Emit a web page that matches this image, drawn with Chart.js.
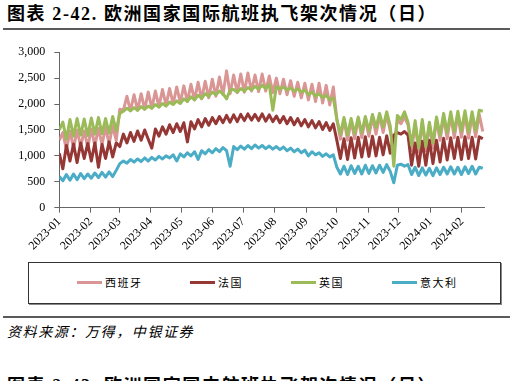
<!DOCTYPE html>
<html><head><meta charset="utf-8">
<script src="https://cdn.jsdelivr.net/npm/chart.js@4.4.0/dist/chart.umd.min.js"></script>
<style>
html,body{margin:0;padding:0;background:#fff;}
body{width:515px;height:381px;overflow:hidden;position:relative;font-family:"Liberation Serif","Noto Sans CJK SC",serif;color:#000;}
.title{position:absolute;left:7px;white-space:nowrap;font-size:18px;font-weight:bold;letter-spacing:1.6px;line-height:22px;}
.rule{position:absolute;left:3px;width:507px;height:2px;background:#5a5a5a;}
#wrap{position:absolute;left:0;top:36px;width:515px;height:222px;}
.legend{position:absolute;left:28px;top:262px;width:471px;height:40px;border:1px solid #333;box-shadow:1px 1px 0 #888;}
.lgline{position:absolute;width:25px;height:3px;top:281px;}
.lgtext{position:absolute;top:275px;font-family:"Noto Sans CJK SC",sans-serif;font-size:11px;line-height:15px;letter-spacing:1.5px;}
.src{position:absolute;left:7px;top:322px;font-family:"Noto Sans CJK SC",sans-serif;font-style:italic;font-size:14px;line-height:18px;letter-spacing:1.6px;}
</style>
</head><body>
<div class="title" style="top:3px">图表 2-42. 欧洲国家国际航班执飞架次情况（日）</div>
<div class="rule" style="top:28px"></div>
<div id="wrap"><canvas id="c"></canvas></div>
<div class="legend"></div>
<div class="lgline" style="left:77px;background:#D99694"></div><div class="lgtext" style="left:105px">西班牙</div>
<div class="lgline" style="left:190px;background:#953735"></div><div class="lgtext" style="left:218px">法国</div>
<div class="lgline" style="left:291px;background:#9BBB59"></div><div class="lgtext" style="left:319px">英国</div>
<div class="lgline" style="left:392px;background:#4BACC6"></div><div class="lgtext" style="left:420px">意大利</div>
<div class="rule" style="top:316px"></div>
<div class="src">资料来源：万得，中银证券</div>
<div class="title" style="top:375px">图表 2-43. 欧洲国家国内航班执飞架次情况（日）</div>
<script>
// Day offsets from 2023-01-01, one sample every 3.5 days (weekly high/low)
const STEP_DAYS = 3.5;
const monthStarts = [0,31,59,90,120,151,181,212,243,273,304,334,365,396];
const monthLabels = ['2023-01','2023-02','2023-03','2023-04','2023-05','2023-06','2023-07','2023-08','2023-09','2023-10','2023-11','2023-12','2024-01','2024-02'];
const yTicks = [0,500,1000,1500,2000,2500,3000];
const seriesNames = ['西班牙','法国','英国','意大利'];

const spain = [
1300,1450,1120,1480,1150,1500,1180,1480,1170,
1520,1200,1530,1220,1550,1230,1580,1300,
1900,1880,2150,1870,2180,1880,2200,1900,2230,
1920,2250,1950,2280,1980,2300,2000,2330,2030,
2350,2050,2380,2080,2420,2100,2440,2120,2480,
2150,2520,2180,2640,2200,2560,2220,2580,
2230,2600,2250,2560,2240,2580,2250,2540,2220,
2500,2200,2480,2180,2450,2150,2420,2120,2400,
2080,2380,2050,2400,2020,2360,1980,2330,
1700,1320,1700,1300,1680,1330,1720,1350,1730,
1380,1760,1420,1780,1450,1800,1480,1200,1700,
1620,1750,1600,1100,1620,1080,1650,1100,1600,
1150,1700,1300,1750,1330,1780,1350,1800,
1360,1800,1340,1780,1370,1800,1470];

const france = [
1050,750,1200,900,1230,870,1250,950,1240,
900,1250,780,1220,950,1270,980,1250,
1180,1420,1250,1450,1280,1480,1300,1500,1320,
1150,1520,1380,1560,1420,1600,1450,1620,1470,
1640,1270,1660,1520,1700,1560,1720,1590,1740,
1620,1760,1640,1780,1650,1790,1660,1800,
1680,1810,1690,1800,1680,1810,1670,1790,1660,
1770,1640,1760,1620,1740,1600,1720,1580,1700,
1560,1680,1540,1660,1510,1640,1490,1620,
1300,950,1330,930,1350,960,1360,980,1370,
990,1380,1000,1360,1020,1390,1050,1400,1450,
1420,1470,1400,820,1250,800,1280,820,1300,
850,1300,880,1340,920,1350,950,1360,
930,1370,950,1360,940,1370,1330];

const uk = [
1500,1650,1320,1700,1380,1720,1400,1710,1390,
1730,1420,1740,1430,1720,1440,1760,1480,
1820,1860,1920,1870,1930,1880,1950,1900,1960,
1920,1990,1940,2010,1960,2040,1990,2060,2010,
2100,2050,2140,2080,2170,2110,2200,2150,2230,
2180,2250,2200,2100,2270,2280,2230,2300,
2250,2320,2270,2340,2290,2360,2300,2380,1880,
2340,2290,2330,2270,2310,2250,2290,2230,2270,
2180,2230,2150,2200,2120,2170,2080,2120,
1700,1420,1740,1400,1720,1430,1750,1450,1760,
1480,1800,1550,1820,1560,1850,1580,800,1780,
1700,1850,1650,1200,1680,1150,1700,1180,1650,
1250,1750,1400,1820,1450,1850,1470,1860,
1480,1870,1460,1850,1490,1880,1860];

const italy = [
600,520,640,530,650,540,660,560,650,
570,670,580,680,590,690,600,720,
850,900,860,930,880,940,890,960,900,
970,920,990,940,1000,960,1020,900,1040,
980,1060,1000,1080,930,1100,1040,1120,1060,
1140,1080,1160,1100,800,1180,1120,1190,
1130,1200,1140,1210,1150,1200,1140,1190,1130,
1180,1120,1170,1100,1150,1080,1130,1060,1110,
1000,1080,1020,1060,990,1040,980,1020,
780,650,800,640,810,660,800,650,820,
660,810,670,820,680,830,700,480,820,
840,800,830,640,780,620,770,630,760,
620,770,640,780,650,790,650,780,
640,790,660,800,650,780,760];

const colors = ['#D99694','#953735','#9BBB59','#4BACC6'];
const allSeries = [spain, france, uk, italy];
const drawOrder = [4,3,2,1];

const datasets = allSeries.map((vals, k) => ({
  label: seriesNames[k],
  data: vals.map((v, i) => ({x: i * STEP_DAYS, y: v})),
  borderColor: colors[k],
  backgroundColor: colors[k],
  borderWidth: 3,
  pointRadius: 0,
  tension: 0,
  borderJoinStyle: 'round',
  order: drawOrder[k]
}));

const tickFont = {family: '"Liberation Serif", serif', size: 12};

new Chart(document.getElementById('c'), {
  type: 'line',
  data: {datasets},
  options: {
    responsive: true,
    maintainAspectRatio: false,
    animation: false,
    events: [],
    layout: {padding: {top: 12.3, right: 30.7, left: 0, bottom: 0}},
    plugins: {legend: {display: false}, tooltip: {enabled: false}},
    scales: {
      x: {
        type: 'linear', min: 0, max: 418,
        afterBuildTicks: (s) => { s.ticks = monthStarts.map(v => ({value: v})); },
        afterFit: (s) => { s.height = 50.3; },
        ticks: {
          autoSkip: false, minRotation: 45, maxRotation: 45, padding: 2,
          color: '#000', font: tickFont,
          callback: (v, i) => monthLabels[i]
        },
        grid: {drawOnChartArea: false, drawTicks: true, tickLength: 5, color: '#666'},
        border: {display: true, color: '#666', width: 1}
      },
      y: {
        min: 0, max: 3000,
        afterBuildTicks: (s) => { s.ticks = yTicks.map(v => ({value: v})); },
        afterFit: (s) => { s.width = 59.3; },
        ticks: {
          padding: 9, color: '#000', font: tickFont,
          callback: (v) => v.toLocaleString('en-US')
        },
        grid: {drawOnChartArea: false, drawTicks: true, tickLength: 5, color: '#666'},
        border: {display: true, color: '#666', width: 1}
      }
    }
  }
});
</script>
</body></html>
